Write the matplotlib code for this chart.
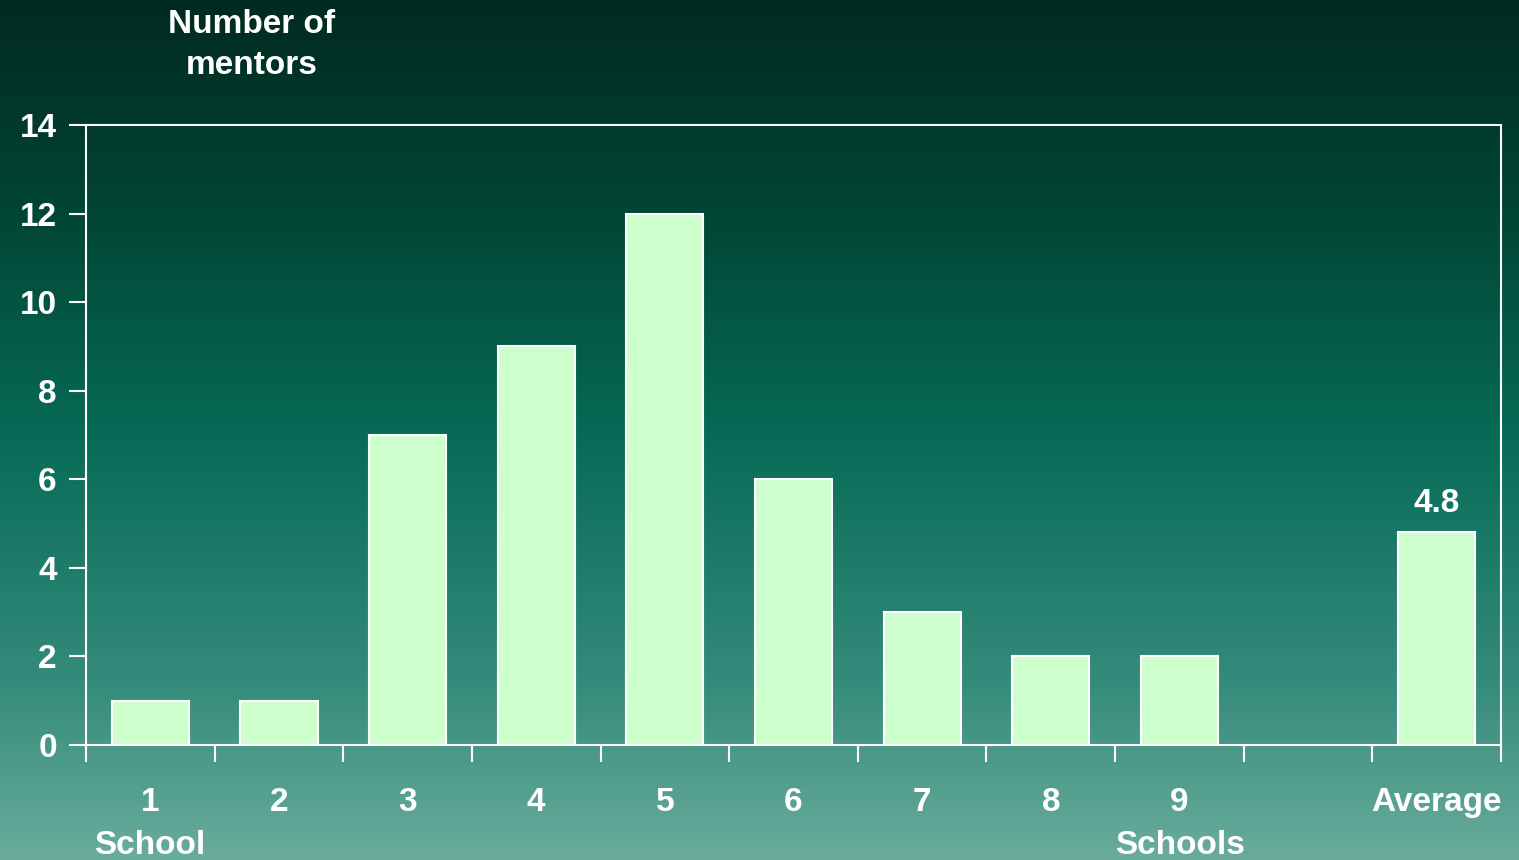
import numpy as np
import matplotlib.pyplot as plt
from matplotlib.colors import LinearSegmentedColormap

# Data
categories = ["1", "2", "3", "4", "5", "6", "7", "8", "9", "", "Average"]
mentors = [1, 1, 7, 9, 12, 6, 3, 2, 2, 0, 4.8]
y_ticks = [0, 2, 4, 6, 8, 10, 12, 14]
average_label = "4.8"

plt.rcParams['font.family'] = ['Liberation Sans', 'DejaVu Sans']
plt.rcParams['font.weight'] = 'bold'

FS = 24

fig = plt.figure(figsize=(15.19, 8.6), dpi=100)

# Vertical background gradient over the whole figure
bg = fig.add_axes([0, 0, 1, 1], zorder=-10)
grad_cmap = LinearSegmentedColormap.from_list(
    "bg", [(0.0, "#012a20"), (0.25, "#024635"), (0.5, "#066a56"),
           (0.8, "#368c7c"), (1.0, "#6aac9c")])
bg.imshow(np.linspace(0, 1, 512).reshape(-1, 1), aspect="auto", cmap=grad_cmap,
          extent=[0, 1, 0, 1], origin="upper")
bg.set_axis_off()

ax = fig.add_axes([86 / 1519, 1 - 745 / 860, (1501 - 86) / 1519, (745 - 125) / 860])
ax.patch.set_alpha(0)

x = np.arange(len(categories))
draw = [v if c else np.nan for v, c in zip(mentors, categories)]
ax.bar(x, draw, width=0.6, color="#ccffcc", edgecolor="white", linewidth=1.5, zorder=3)

ax.set_xlim(-0.5, len(categories) - 0.5)
ax.set_ylim(0, 14)
ax.set_yticks(y_ticks)
ax.set_yticklabels([str(t) for t in y_ticks], fontsize=FS, color="white", fontweight="bold")

# Category boundary ticks with labels centred under each bar
ax.set_xticks(np.arange(len(categories) + 1) - 0.5)
ax.set_xticklabels([])
ax.set_xticks(x, minor=True)
ax.set_xticklabels(categories, minor=True, fontsize=FS, color="white", fontweight="bold")
ax.tick_params(axis="x", which="minor", length=0, pad=30)
ax.tick_params(axis="x", which="major", length=12, width=1.5, color="white", direction="out")
ax.tick_params(axis="y", length=12, width=1.5, color="white", direction="out", pad=9)

for s in ax.spines.values():
    s.set_color("white")
    s.set_linewidth(1.5)

# Value label above the average bar
ax.text(x[-1], mentors[-1] + 0.3, average_label, ha="center", va="bottom",
        fontsize=FS, color="white", fontweight="bold")

# Titles and extra axis annotations
fig.text(252 / 1519, 1 - 45 / 860, "Number of\nmentors", ha="center", va="center",
         fontsize=FS, color="white", fontweight="bold", linespacing=1.45)
fig.text(150 / 1519, 1 - 845 / 860, "School", ha="center", va="center",
         fontsize=FS, color="white", fontweight="bold")
fig.text(1180 / 1519, 1 - 845 / 860, "Schools", ha="center", va="center",
         fontsize=FS, color="white", fontweight="bold")

fig.savefig("out.png", dpi=100)
